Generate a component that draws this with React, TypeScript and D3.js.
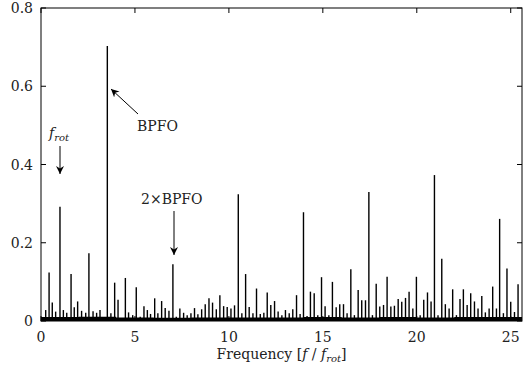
import React from "react";
import * as d3 from "d3";

const peakFreqs = [0.25,0.43,0.60,0.78,1.01,1.19,1.37,1.60,1.77,1.95,2.16,2.38,2.55,2.77,2.96,3.14,3.53,3.72,3.92,4.10,4.49,4.66,4.88,5.07,5.28,5.48,5.66,5.83,6.05,6.22,6.42,6.61,6.81,7.02,7.20,7.39,7.59,7.78,7.98,8.17,8.35,8.55,8.74,8.94,9.13,9.33,9.52,9.72,9.91,10.11,10.30,10.50,10.69,10.89,11.08,11.28,11.47,11.67,11.86,12.04,12.23,12.43,12.62,12.82,13.01,13.21,13.40,13.60,13.79,13.97,14.16,14.34,14.54,14.73,14.93,15.12,15.32,15.51,15.71,15.90,16.10,16.29,16.49,16.68,16.88,17.07,17.27,17.45,17.64,17.84,18.03,18.23,18.42,18.62,18.81,19.01,19.20,19.40,19.59,19.79,19.98,20.18,20.37,20.57,20.76,20.94,21.13,21.33,21.52,21.72,21.91,22.11,22.30,22.48,22.68,22.87,23.07,23.26,23.46,23.65,23.85,24.04,24.24,24.41,24.61,24.80,25.00,25.20,25.39];
const peakAmps = [0.028,0.124,0.047,0.024,0.292,0.028,0.021,0.120,0.035,0.050,0.026,0.021,0.173,0.025,0.021,0.028,0.703,0.020,0.098,0.054,0.110,0.022,0.015,0.086,0.011,0.038,0.028,0.018,0.058,0.020,0.051,0.033,0.026,0.145,0.011,0.032,0.021,0.015,0.020,0.033,0.017,0.030,0.043,0.058,0.047,0.030,0.066,0.038,0.036,0.032,0.040,0.324,0.020,0.120,0.036,0.020,0.083,0.018,0.021,0.073,0.041,0.051,0.024,0.015,0.028,0.020,0.030,0.066,0.018,0.278,0.013,0.075,0.071,0.015,0.112,0.038,0.015,0.100,0.035,0.043,0.043,0.020,0.132,0.015,0.079,0.053,0.053,0.330,0.015,0.095,0.037,0.041,0.113,0.037,0.039,0.056,0.049,0.059,0.075,0.032,0.113,0.015,0.054,0.073,0.050,0.373,0.015,0.159,0.043,0.032,0.081,0.015,0.056,0.081,0.041,0.071,0.050,0.032,0.064,0.022,0.032,0.088,0.032,0.261,0.020,0.134,0.049,0.023,0.094];
const floorFreqs = [0,2,4,6,8,10,12,14,16,18,20,22,24,25.6];
const floorAmps = [0.010,0.011,0.009,0.008,0.009,0.009,0.009,0.010,0.009,0.010,0.009,0.010,0.010,0.010];
const xTicks = [0, 5, 10, 15, 20, 25];
const yTicks = [0, 0.2, 0.4, 0.6, 0.8];
const yTickLabels = ["0", "0.2", "0.4", "0.6", "0.8"];

export default function App() {
  const W = 523, H = 370;
  const L = 41, R = 522, T = 8, B = 321;
  const x = d3.scaleLinear().domain([0, 25.6]).range([L, R]);
  const y = d3.scaleLinear().domain([0, 0.8]).range([B, T]);
  const txt: React.CSSProperties = { fontFamily: '"DejaVu Serif", "Liberation Serif", serif', fontSize: 14, fill: "#222" };
  const floorArea = d3.area<number>()
    .x((_, i) => x(floorFreqs[i]))
    .y0(y(0))
    .y1((d) => y(d))
    .curve(d3.curveStepAfter);
  const tl = 5;
  return (
    <svg width={W} height={H} style={{ position: "absolute", left: 0, top: 0, background: "#fff" }}>
      <defs>
        <marker id="ah" viewBox="0 0 10 10" refX="10" refY="5" markerWidth="8" markerHeight="8" orient="auto" markerUnits="userSpaceOnUse">
          <path d="M0,0 L10,5 L0,10 L3,5 Z" fill="#000" />
        </marker>
      </defs>
      <path d={floorArea(floorAmps) || ""} fill="#000" />
      {peakFreqs.map((f, i) => (
        <line key={i} x1={x(f)} x2={x(f)} y1={y(0)} y2={y(peakAmps[i])} stroke="#000" strokeWidth={1.4} />
      ))}
      <rect x={L} y={T} width={R - L} height={B - T} fill="none" stroke="#000" strokeWidth={1} />
      {xTicks.map((t) => (
        <g key={t}>
          <line x1={x(t)} x2={x(t)} y1={T} y2={T + tl} stroke="#000" />
          <line x1={x(t)} x2={x(t)} y1={B} y2={B - tl} stroke="#000" />
          <text x={x(t)} y={B + 21} style={txt} textAnchor="middle">{t}</text>
        </g>
      ))}
      {yTicks.map((t, i) => (
        <g key={t}>
          <line x1={L} x2={L + tl} y1={y(t)} y2={y(t)} stroke="#000" />
          <line x1={R} x2={R - tl} y1={y(t)} y2={y(t)} stroke="#000" />
          <text x={L - 8} y={y(t) + 5} style={txt} textAnchor="end">{yTickLabels[i]}</text>
        </g>
      ))}
      <text x={(L + R) / 2} y={359} style={txt} textAnchor="middle">
        Frequency [<tspan fontStyle="italic">f</tspan> / <tspan fontStyle="italic">f</tspan><tspan fontStyle="italic" fontSize={10} dy={3}>rot</tspan><tspan dy={-3}>]</tspan>
      </text>
      <text x={49} y={138} style={txt}>
        <tspan fontStyle="italic">f</tspan><tspan fontStyle="italic" fontSize={10} dy={3}>rot</tspan>
      </text>
      <line x1={60} y1={146} x2={60} y2={174} stroke="#000" strokeWidth={1} markerEnd="url(#ah)" />
      <text x={137} y={131} style={txt}>BPFO</text>
      <line x1={138} y1={114} x2={111} y2={89} stroke="#000" strokeWidth={1} markerEnd="url(#ah)" />
      <text x={141} y={204} style={txt}>2×BPFO</text>
      <line x1={174} y1={211} x2={174} y2={255} stroke="#000" strokeWidth={1} markerEnd="url(#ah)" />
    </svg>
  );
}
